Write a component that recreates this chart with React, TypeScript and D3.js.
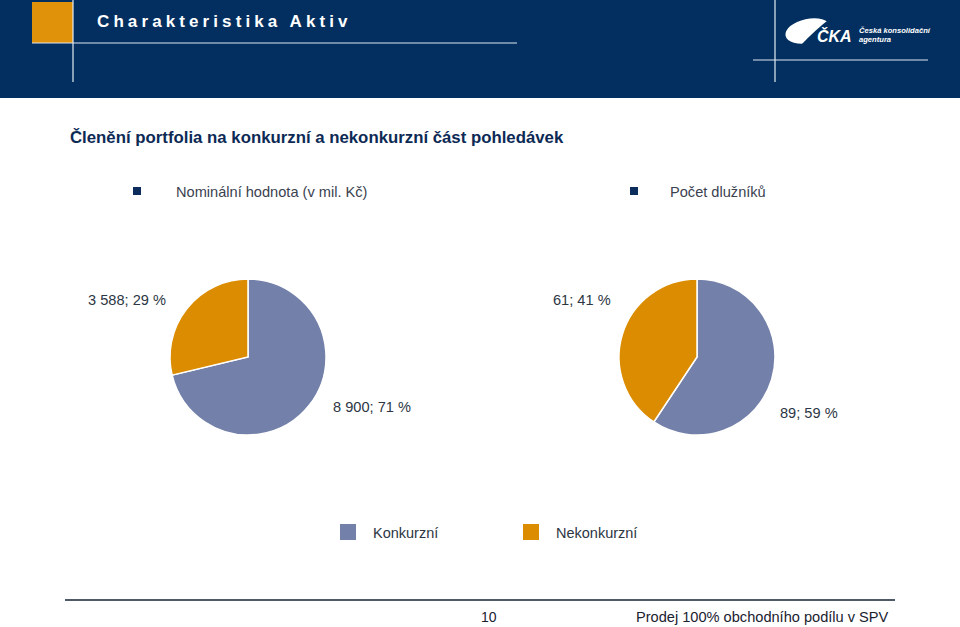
import React, { useRef, useEffect } from "react";
import * as d3 from "d3";

// data
const categories = ["Konkurzní", "Nekonkurzní"];
const nominalValues = [8900, 3588]; // mil. Kč
const debtorCounts = [89, 61];
const chartTitles = ["Nominální hodnota (v mil. Kč)", "Počet dlužníků"];

const colors = ["#7380a9", "#db8c00"];
const navy = "#022f5f";
const font = "'Liberation Sans', Arial, sans-serif";

const App = () => {
  const svgRef = useRef<SVGSVGElement>(null);

  useEffect(() => {
    const svg = d3.select(svgRef.current);
    svg.selectAll("*").remove();

    const width = 960;
    const height = 627;

    const locale = d3.formatLocale({ decimal: ",", thousands: " ", grouping: [3], currency: ["", " Kč"] });
    const fmt = locale.format(",d");

    svg.append("rect").attr("width", width).attr("height", height).attr("fill", "#fff");

    // header band
    const head = svg.append("g");
    head.append("rect").attr("width", width).attr("height", 98).attr("fill", navy);
    head.append("rect").attr("x", 32).attr("y", 2).attr("width", 41).attr("height", 41).attr("fill", "#e0920a");
    head.append("line").attr("x1", 73).attr("x2", 73).attr("y1", 0).attr("y2", 82)
      .attr("stroke", "#e6ecf4").attr("stroke-width", 1.2);
    head.append("line").attr("x1", 32).attr("x2", 517).attr("y1", 43).attr("y2", 43)
      .attr("stroke", "#dfe6f0").attr("stroke-width", 1.2);
    head.append("text").attr("x", 97).attr("y", 27).text("Charakteristika Aktiv")
      .attr("fill", "#fff").attr("font-family", font).attr("font-weight", "bold")
      .attr("font-size", 17).attr("letter-spacing", 4.1);

    // logo area
    head.append("line").attr("x1", 775).attr("x2", 775).attr("y1", 0).attr("y2", 82)
      .attr("stroke", "#e6ecf4").attr("stroke-width", 1.2);
    head.append("line").attr("x1", 753).attr("x2", 928).attr("y1", 60).attr("y2", 60)
      .attr("stroke", "#dfe6f0").attr("stroke-width", 1.2);
    head.append("ellipse").attr("cx", 808).attr("cy", 31).attr("rx", 23).attr("ry", 12)
      .attr("transform", "rotate(-12 808 31)").attr("fill", "#fff");
    head.append("path").attr("d", "M 832 17 Q 815 30 800 46 L 830 46 Z").attr("fill", navy);
    head.append("text").attr("x", 817).attr("y", 42).text("ČKA")
      .attr("fill", "#fff").attr("font-family", font).attr("font-weight", "bold")
      .attr("font-style", "italic").attr("font-size", 16);
    head.append("text").attr("x", 859).attr("y", 33).text("Česká konsolidační")
      .attr("fill", "#fff").attr("font-family", font).attr("font-weight", "bold")
      .attr("font-style", "italic").attr("font-size", 7.6);
    head.append("text").attr("x", 859).attr("y", 42).text("agentura")
      .attr("fill", "#fff").attr("font-family", font).attr("font-weight", "bold")
      .attr("font-style", "italic").attr("font-size", 7.6);

    // subtitle
    svg.append("text").attr("x", 70).attr("y", 143)
      .text("Členění portfolia na konkurzní a nekonkurzní část pohledávek")
      .attr("fill", "#0d2a55").attr("font-family", font).attr("font-weight", "bold").attr("font-size", 16.8);

    const pies = [
      { values: nominalValues, cx: 248, bx: 133, tx: 176, lo: [-160, -52], hi: [85, 55] },
      { values: debtorCounts, cx: 697, bx: 630, tx: 670, lo: [-144, -52], hi: [83, 61] },
    ];
    const cy = 357;
    const r = 78;

    const pie = d3.pie<number>().sort(null).value((d) => d);
    const arc = d3.arc<d3.PieArcDatum<number>>().innerRadius(0).outerRadius(r);

    pies.forEach((p, i) => {
      // bullet title
      svg.append("rect").attr("x", p.bx).attr("y", 187).attr("width", 8).attr("height", 8).attr("fill", "#0c2c5c");
      svg.append("text").attr("x", p.tx).attr("y", 197).text(chartTitles[i])
        .attr("fill", "#3a4250").attr("font-family", font).attr("font-size", 14.6);

      const total = d3.sum(p.values);
      const g = svg.append("g").attr("transform", `translate(${p.cx},${cy})`);
      g.selectAll("path")
        .data(pie(p.values))
        .enter()
        .append("path")
        .attr("d", arc)
        .attr("fill", (_, j) => colors[j])
        .attr("stroke", "#fff")
        .attr("stroke-width", 1.5);

      const offs = [p.hi, p.lo];
      p.values.forEach((v, j) => {
        g.append("text")
          .attr("x", offs[j][0])
          .attr("y", offs[j][1])
          .text(`${fmt(v)}; ${Math.round((v / total) * 100)} %`)
          .attr("fill", "#2c3644")
          .attr("font-family", font)
          .attr("font-size", 14.6);
      });
    });

    // legend
    const legX = [340, 523];
    categories.forEach((c, i) => {
      svg.append("rect").attr("x", legX[i]).attr("y", 524).attr("width", 16).attr("height", 16).attr("fill", colors[i]);
      svg.append("text").attr("x", legX[i] + 33).attr("y", 538).text(c)
        .attr("fill", "#2c3644").attr("font-family", font).attr("font-size", 14.5);
    });

    // footer
    svg.append("line").attr("x1", 65).attr("x2", 895).attr("y1", 600).attr("y2", 600)
      .attr("stroke", "#4e5a68").attr("stroke-width", 2);
    svg.append("text").attr("x", 481).attr("y", 622).text("10")
      .attr("fill", "#1a2230").attr("font-family", font).attr("font-size", 14);
    svg.append("text").attr("x", 636).attr("y", 622).text("Prodej 100% obchodního podílu v SPV")
      .attr("fill", "#1a2230").attr("font-family", font).attr("font-size", 14.6);
  }, []);

  return (
    <div style={{ position: "absolute", left: 0, top: 0 }}>
      <svg ref={svgRef} width={960} height={627} style={{ display: "block" }}></svg>
    </div>
  );
};

export default App;
